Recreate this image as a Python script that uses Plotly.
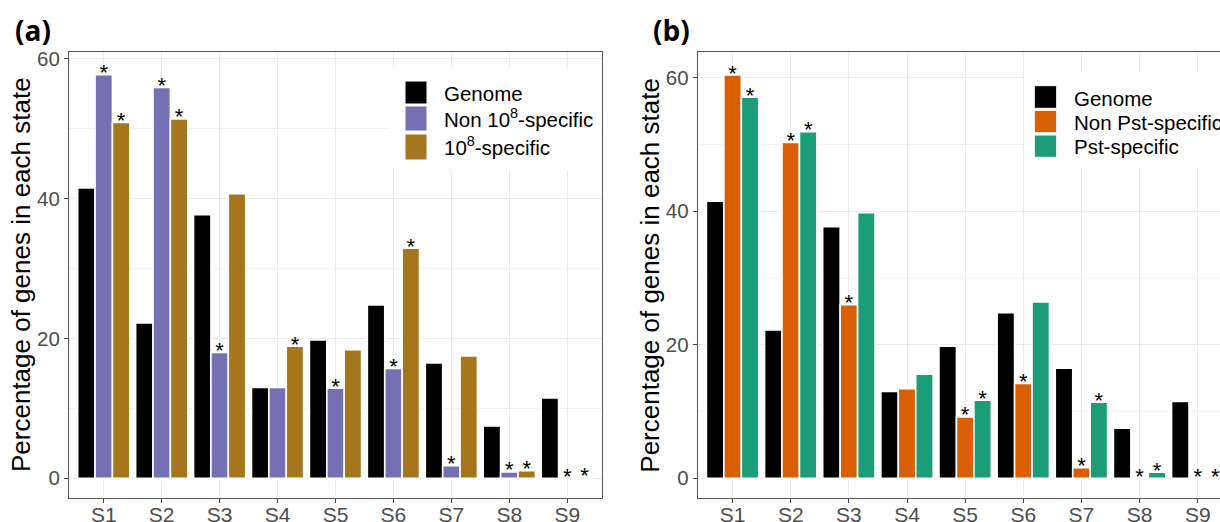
import plotly.graph_objects as go

# ---------------- data ----------------
states = ["S1", "S2", "S3", "S4", "S5", "S6", "S7", "S8", "S9"]

genome = [41.5, 22.2, 37.7, 13.0, 19.8, 24.8, 16.5, 7.5, 11.5]

non_108 = [57.7, 55.9, 18.0, 13.0, 12.9, 15.7, 1.8, 0.9, 0.0]
spec_108 = [50.9, 51.4, 40.7, 18.9, 18.4, 32.9, 17.5, 1.1, 0.1]

non_pst = [60.4, 50.3, 26.0, 13.4, 9.2, 14.2, 1.6, 0.0, 0.0]
spec_pst = [57.1, 51.9, 39.8, 15.6, 11.7, 26.4, 11.4, 0.9, 0.0]

sig_non_108 = ["*", "*", "*", "", "*", "*", "*", "*", "*"]
sig_spec_108 = ["*", "*", "", "*", "", "*", "", "*", "*"]
sig_non_pst = ["*", "*", "*", "", "*", "*", "*", "*", "*"]
sig_spec_pst = ["*", "*", "", "", "*", "", "*", "*", "*"]
no_sig = [" "] * 9

names_a = ["Genome", "Non 10<sup>8</sup>-specific", "10<sup>8</sup>-specific"]
names_b = ["Genome", "Non Pst-specific", "Pst-specific"]

panel_labels = ["(a)", "(b)"]
y_title = "Percentage of genes in each state"

# ---------------- style ----------------
W, H = 1220, 522
BLACK = "#000000"
PURPLE = "#7570B3"
GOLD = "#A6761D"
ORANGE = "#D95F02"
TEAL = "#1B9E77"
FONT = "Liberation Sans, Arial, sans-serif"


def px_x(x):
    return x / W


def px_y(y):
    return 1 - y / H


fig = go.Figure()

panels = [
    ("x", "y", [genome, non_108, spec_108], [no_sig, sig_non_108, sig_spec_108],
     [BLACK, PURPLE, GOLD], names_a),
    ("x2", "y2", [genome, non_pst, spec_pst], [no_sig, sig_non_pst, sig_spec_pst],
     [BLACK, ORANGE, TEAL], names_b),
]

for xa, ya, series, sigs, colors, names in panels:
    for k, (vals, col, nm) in enumerate(zip(series, colors, names)):
        fig.add_trace(go.Bar(
            x=states, y=vals, name=nm, xaxis=xa, yaxis=ya,
            marker=dict(color=col, line=dict(color="white", width=1.6)),
            offsetgroup=str(k), showlegend=False, hoverinfo="x+y",
        ))
    for k, (vals, sg) in enumerate(zip(series, sigs)):
        fig.add_trace(go.Scatter(
            x=states, y=vals, text=sg, mode="text", xaxis=xa, yaxis=ya,
            textposition="middle center", offsetgroup=str(k),
            textfont=dict(size=22, color="black", family=FONT),
            showlegend=False, hoverinfo="skip", cliponaxis=False,
        ))

XTICKFONT = dict(size=21, color="#4D4D4D", family=FONT)
YTICKFONT = dict(size=20.5, color="#4D4D4D", family=FONT)

axis_common = dict(
    showline=True, mirror=True, linecolor="#555555", linewidth=1,
    ticks="outside", ticklen=4, tickwidth=1, tickcolor="#444444",
    showgrid=True, gridcolor="#EBEBEB", gridwidth=1.2,
    zeroline=False, automargin=False,
)

y_dom = [1 - 498.3 / H, 1 - 51.7 / H]
minor_y = dict(tickvals=[10, 30, 50], showgrid=True,
               gridcolor="#F2F2F2", gridwidth=0.7, ticks="")

fig.update_layout(
    width=W, height=H,
    margin=dict(l=0, r=0, t=0, b=0),
    paper_bgcolor="white", plot_bgcolor="white",
    barmode="group", bargap=0.1, bargroupgap=0,
    scattermode="group", scattergap=0.1,
    showlegend=False,
    font=dict(family=FONT, size=19),
    xaxis=dict(domain=[69 / W, 602 / W], range=[-0.6, 8.6], type="category",
               anchor="y", ticklabelstandoff=-7, tickfont=XTICKFONT, **axis_common),
    xaxis2=dict(domain=[697.7 / W, 1.0], range=[-0.6, 8.383], type="category",
                anchor="y2", ticklabelstandoff=-7, tickfont=XTICKFONT, **axis_common),
    yaxis=dict(domain=y_dom, range=[-2.86, 61.0], tickvals=[0, 20, 40, 60],
               anchor="x", minor=minor_y, tickfont=YTICKFONT, **axis_common),
    yaxis2=dict(domain=y_dom, range=[-3.0, 63.9], tickvals=[0, 20, 40, 60],
                anchor="x2", minor=minor_y, tickfont=YTICKFONT, **axis_common),
)

shapes = []
annotations = []

# panel labels and y titles
for lab, cx in zip(panel_labels, [32.5, 671.7]):
    annotations.append(dict(
        text=f"<b>{lab}</b>", x=px_x(cx), y=px_y(29.5), xref="paper", yref="paper",
        xanchor="center", yanchor="middle", showarrow=False,
        font=dict(family="Open Sans, sans-serif", size=28, color="black")))
for cx in [21, 649.7]:
    annotations.append(dict(
        text=y_title, x=px_x(cx), y=px_y(275), xref="paper", yref="paper",
        xanchor="center", yanchor="middle", showarrow=False, textangle=-90,
        font=dict(family=FONT, size=26, color="black")))

# manual legends (large keys like ggplot)
legends = [
    dict(bg=(389, 68, 601, 170), key_x=(405, 427),
         keys=[(81, 104), (106, 131), (134, 160)],
         text_y=[93.3, 118.3, 146], text_x=441.7,
         colors=[BLACK, PURPLE, GOLD], names=names_a),
    dict(bg=(1025, 73, 1220, 167), key_x=(1034.3, 1056.7),
         keys=[(85.7, 108.3), (110.3, 132.7), (135, 157.3)],
         text_y=[98.3, 122.7, 146.7], text_x=1071.7,
         colors=[BLACK, ORANGE, TEAL], names=names_b),
]
for lg in legends:
    x0, y0, x1, y1 = lg["bg"]
    shapes.append(dict(type="rect", xref="paper", yref="paper",
                       x0=px_x(x0), x1=px_x(x1), y0=px_y(y1), y1=px_y(y0),
                       fillcolor="white", line=dict(width=0), layer="above"))
    for (ky0, ky1), col in zip(lg["keys"], lg["colors"]):
        shapes.append(dict(type="rect", xref="paper", yref="paper",
                           x0=px_x(lg["key_x"][0]), x1=px_x(lg["key_x"][1]),
                           y0=px_y(ky1), y1=px_y(ky0),
                           fillcolor=col, line=dict(color="white", width=1),
                           layer="above"))
    for ty, nm in zip(lg["text_y"], lg["names"]):
        annotations.append(dict(
            text=nm, x=px_x(lg["text_x"]), y=px_y(ty), xref="paper", yref="paper",
            xanchor="left", yanchor="middle", showarrow=False,
            font=dict(family=FONT, size=20.5, color="black")))

fig.update_layout(shapes=shapes, annotations=annotations)

fig.write_html("out.html")
